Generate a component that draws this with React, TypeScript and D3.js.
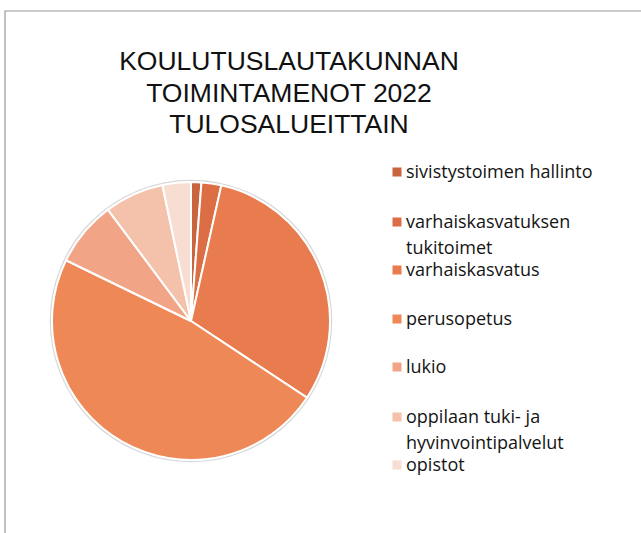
import { useEffect, useRef } from 'react';
import * as d3 from 'd3';

// Koulutuslautakunnan toimintamenot 2022, osuudet (%) luettu kuvasta
const categories = [
  'sivistystoimen hallinto',
  'varhaiskasvatuksen tukitoimet',
  'varhaiskasvatus',
  'perusopetus',
  'lukio',
  'oppilaan tuki- ja hyvinvointipalvelut',
  'opistot',
];
const shares = [1.2, 2.3, 30.8, 47.9, 7.6, 6.9, 3.3];
const legendLines = [
  ['sivistystoimen hallinto'],
  ['varhaiskasvatuksen', 'tukitoimet'],
  ['varhaiskasvatus'],
  ['perusopetus'],
  ['lukio'],
  ['oppilaan tuki- ja', 'hyvinvointipalvelut'],
  ['opistot'],
];
const colors = ['#c9643f', '#dc6e45', '#e87c4e', '#ee8857', '#f1a586', '#f4c2aa', '#f8ded2'];
const titleLines = ['KOULUTUSLAUTAKUNNAN', 'TOIMINTAMENOT 2022', 'TULOSALUEITTAIN'];

const W = 641;
const H = 533;

export default function App() {
  const svgRef = useRef<SVGSVGElement | null>(null);

  useEffect(() => {
    if (!svgRef.current) return;
    const svg = d3.select(svgRef.current);
    svg.selectAll('*').remove();

    svg.append('rect').attr('width', W).attr('height', H).attr('fill', '#ffffff');

    // frame
    svg
      .append('path')
      .attr('d', `M5,${H} L5,11 L${W},11`)
      .attr('fill', 'none')
      .attr('stroke', '#9a9a9a')
      .attr('stroke-width', 1.2);

    svg
      .append('text')
      .attr('text-anchor', 'middle')
      .attr('font-family', '"Liberation Sans", Arial, sans-serif')
      .attr('font-size', 26.5)
      .attr('fill', '#111')
      .selectAll('tspan')
      .data(titleLines)
      .join('tspan')
      .attr('x', 289)
      .attr('y', (_, i) => 70 + i * 31.5)
      .text((d) => d);

    const cx = 191;
    const cy = 321;
    const r = 139;

    const color = d3.scaleOrdinal<string, string>().domain(categories).range(colors);

    const pie = d3
      .pie<number>()
      .sort(null)
      .value((d) => d);
    const arcs = pie(shares);
    const arc = d3.arc<d3.PieArcDatum<number>>().innerRadius(0).outerRadius(r);

    const g = svg.append('g').attr('transform', `translate(${cx},${cy})`);

    g.append('circle')
      .attr('r', r + 1.5)
      .attr('fill', 'none')
      .attr('stroke', '#d8d8d8')
      .attr('stroke-width', 1.5);

    g.selectAll('path.slice')
      .data(arcs)
      .join('path')
      .attr('class', 'slice')
      .attr('d', arc)
      .attr('fill', (_, i) => color(categories[i]))
      .attr('stroke', '#ffffff')
      .attr('stroke-width', 2)
      .attr('stroke-linejoin', 'round');

    // legend
    const legendY = [172, 222, 270, 319, 367, 417, 465];
    const legend = svg.append('g').attr('font-family', '"Open Sans", "Noto Sans", sans-serif');
    legendLines.forEach((lines, i) => {
      const y = legendY[i];
      legend
        .append('rect')
        .attr('x', 392.5)
        .attr('y', y - 4.5)
        .attr('width', 9)
        .attr('height', 9)
        .attr('fill', colors[i]);
      legend
        .append('text')
        .attr('font-size', 18)
        .attr('fill', '#141414')
        .selectAll('tspan')
        .data(lines)
        .join('tspan')
        .attr('x', 406)
        .attr('y', (_, j) => y + 6 + j * 25.5)
        .text((d) => d);
    });
  }, []);

  return (
    <svg
      ref={svgRef}
      width={W}
      height={H}
      style={{ position: 'absolute', left: 0, top: 0, display: 'block' }}
    />
  );
}
